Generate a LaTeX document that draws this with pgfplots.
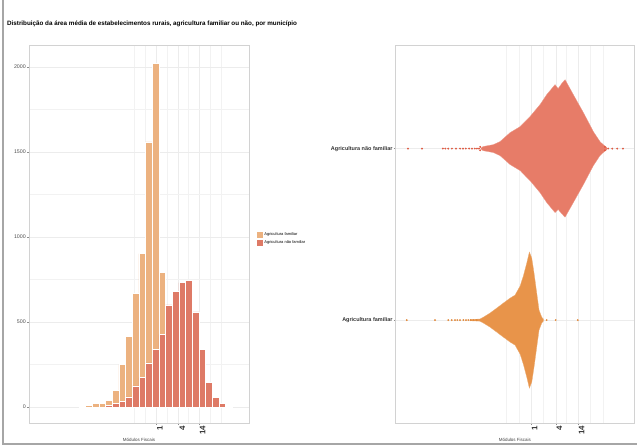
\documentclass[border=0pt]{standalone}
\usepackage{fontspec}
\setmainfont{Liberation Sans}
\usepackage{pgfplots}
\pgfplotsset{compat=1.18}

\definecolor{famcol}{RGB}{236,178,128}
\definecolor{nfamcol}{RGB}{222,122,102}
\definecolor{swred}{RGB}{231,124,104}
\definecolor{swreddot}{RGB}{222,88,64}
\definecolor{sworange}{RGB}{232,148,74}
\definecolor{sworangedot}{RGB}{226,138,60}
\definecolor{gridc}{RGB}{236,236,236}
\definecolor{framec}{RGB}{210,210,210}

\pgfplotsset{
  common/.style={
    scale only axis,
    axis line style={framec, line width=0.8bp},
    grid=both,
    major grid style={gridc, line width=0.5bp},
    minor grid style={gridc!70, line width=0.4bp},
    tick style={black!45, line width=0.5bp},
    tick align=outside,
    tick pos=left,
    major tick length=2bp,
    minor tick length=0pt,
    xtick={0,0.60206,1.14613},
    xticklabels={1,4,14},
    minor xtick={-0.60206,-0.30103,0.30103,0.845098,1.447158,1.748188},
    x tick label style={rotate=90, anchor=north east, font=\bfseries\fontsize{8}{9}\selectfont, text=black!80, inner sep=0.6bp},
    xlabel={Módulos Fiscais},
    xlabel style={at={(axis description cs:0.5,0)}, anchor=center, yshift=-17bp, font=\fontsize{4.5}{5}\selectfont, text=black!75},
  },
  sqleg/.style={legend image code/.code={\draw[#1, draw=none] (0bp,-3.2bp) rectangle (6.5bp,3.2bp);}},
}

\begin{document}
\begin{tikzpicture}
\useasboundingbox (0bp,0bp) rectangle (640bp,448bp);
\draw[black!35, line width=1.2bp] (3bp,448bp) -- (3bp,4bp) -- (637bp,4bp);
\node[anchor=west, inner sep=0pt, font=\bfseries\fontsize{6.3}{7.5}\selectfont] at (7bp,424bp) {Distribuição da área média de estabelecimentos rurais, agricultura familiar ou não, por município};

\begin{axis}[common,
  at={(29bp,25bp)}, anchor=south west,
  width=220bp, height=378bp,
  xmin=-3.42, xmax=2.49, ymin=-94, ymax=2129,
  ytick={0,500,1000,1500,2000},
  yticklabels={0,500,1000,1500,2000},
  minor ytick={250,750,1250,1750},
  yticklabel style={font=\fontsize{5.3}{6}\selectfont, text=black!70, inner sep=1bp},
  legend style={at={(1.035,0.487)}, anchor=west, draw=none, fill=none, font=\fontsize{4}{4.5}\selectfont, row sep=1.2bp, inner sep=0pt, nodes={inner sep=1bp}},
  legend cell align=left,
]
\addplot[ybar, bar width=0.179, bar shift=0pt, fill=famcol, draw=white, line width=0.5bp, sqleg] coordinates {
(-1.987,4) (-1.808,10) (-1.629,22) (-1.450,20) (-1.271,40) (-1.092,98)
(-0.913,249) (-0.734,416) (-0.555,670) (-0.376,902) (-0.197,1559) (-0.018,2022)
(0.161,790) (0.340,300) (0.519,130) (0.698,50) (0.877,20) (1.056,8) (1.235,3)
};
\addlegendentry{Agricultura familiar}
\addplot[ybar, bar width=0.179, bar shift=0pt, fill=nfamcol, draw=white, line width=0.5bp, sqleg] coordinates {
(-1.271,10) (-1.092,20) (-0.913,33) (-0.734,59) (-0.555,124) (-0.376,173)
(-0.197,259) (-0.018,341) (0.161,427) (0.340,600) (0.519,678) (0.698,731)
(0.877,745) (1.056,559) (1.235,339) (1.414,147) (1.593,55) (1.772,21) (1.951,3)
};
\addlegendentry{Agricultura não familiar}
\end{axis}

\begin{axis}[common,
  at={(395.7bp,25bp)}, anchor=south west,
  width=238.3bp, height=377.3bp,
  xmin=-3.30, xmax=2.51, ymin=0.4, ymax=2.6,
  ytick={1,2},
  yticklabels={Agricultura familiar, Agricultura não familiar},
  minor ytick={},
  yticklabel style={font=\bfseries\fontsize{5.5}{6}\selectfont, text=black!80, inner sep=1bp},
]
% Agricultura nao familiar (y = 2)
\addplot[fill=swred, draw=swreddot!60, line width=0.3bp] coordinates {
(-1.22,2.003) (-1.17,2.012) (-0.92,2.023) (-0.756,2.041) (-0.512,2.093) (-0.268,2.128)
(-0.024,2.187) (0.22,2.257) (0.383,2.315) (0.585,2.373) (0.66,2.35) (0.75,2.38) (0.83,2.402)
(1.03,2.315) (1.276,2.21) (1.52,2.099) (1.68,2.041) (1.76,2.023) (1.85,2.006)
(1.85,1.994) (1.76,1.977) (1.68,1.959) (1.52,1.901) (1.276,1.79) (1.03,1.685)
(0.83,1.60) (0.75,1.62) (0.66,1.645) (0.585,1.627) (0.383,1.685) (0.22,1.743)
(-0.024,1.813) (-0.268,1.872) (-0.512,1.907) (-0.756,1.959) (-0.92,1.977) (-1.17,1.988) (-1.22,1.997)
};
\addplot[only marks, mark=*, mark size=0.7bp, swreddot, mark options={draw=none}] coordinates {
(-3.0,2) (-2.66,2) (-2.15,2) (-2.09,2) (-2.02,2) (-1.93,2) (-1.83,2) (-1.73,2) (-1.66,2)
(-1.59,2) (-1.51,2) (-1.44,2) (-1.37,2) (-1.32,2) (-1.27,2) (-1.24,2.01) (-1.24,1.99)
(1.80,2.01) (1.80,1.99) (1.88,2) (1.98,2) (2.10,2) (2.24,2)
};
% Agricultura familiar (y = 1)
\addplot[fill=sworange, draw=sworangedot!70, line width=0.3bp] coordinates {
(-1.49,1.004) (-1.25,1.006) (-1.163,1.017) (-1.0,1.041) (-0.837,1.07) (-0.676,1.099)
(-0.512,1.128) (-0.39,1.146) (-0.268,1.198) (-0.188,1.257) (-0.105,1.332) (-0.041,1.397)
(0.017,1.362) (0.073,1.274) (0.139,1.157) (0.195,1.058) (0.261,1.017) (0.30,1.006)
(0.30,0.994) (0.261,0.983) (0.195,0.942) (0.139,0.843) (0.073,0.726) (0.017,0.638)
(-0.041,0.603) (-0.105,0.668) (-0.188,0.743) (-0.268,0.802) (-0.39,0.854) (-0.512,0.872)
(-0.676,0.901) (-0.837,0.93) (-1.0,0.959) (-1.163,0.983) (-1.25,0.994) (-1.49,0.996)
};
\addplot[only marks, mark=*, mark size=0.7bp, sworangedot, mark options={draw=none}] coordinates {
(-3.03,1) (-2.34,1) (-2.017,1) (-1.934,1) (-1.854,1) (-1.797,1) (-1.732,1) (-1.65,1)
(-1.585,1) (-1.529,1) (-1.471,1) (-1.407,1) (-1.325,1)
(0.38,1) (0.60,1) (1.14,1)
};
\end{axis}
\end{tikzpicture}
\end{document}
